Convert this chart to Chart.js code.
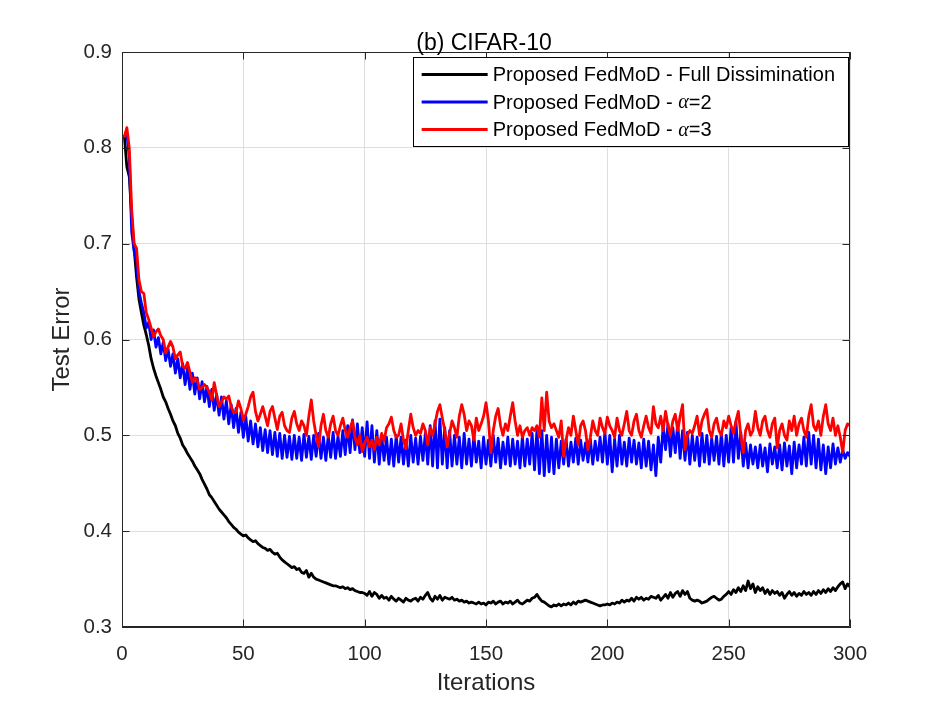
<!DOCTYPE html>
<html>
<head>
<meta charset="utf-8">
<script src="https://cdn.jsdelivr.net/npm/chart.js@4.4.1/dist/chart.umd.min.js"></script>
<style>
html,body{margin:0;padding:0;background:#fff;}
#wrap{width:938px;height:704px;position:relative;}
</style>
</head>
<body>
<div id="wrap"><canvas id="c" width="938" height="704"></canvas></div>
<script>
const chartTitle = '(b) CIFAR-10';
const xTitle = 'Iterations';
const yTitle = 'Test Error';
const seriesLabels = ['Proposed FedMoD - Full Dissimination', 'Proposed FedMoD - α=2', 'Proposed FedMoD - α=3'];
const seriesColors = ['#000000', '#0000ff', '#ff0000'];

const fullDissemination = [
.812,.780,.770,.728,.695,.665,.642,.628,.615,.605,
.594,.580,.570,.562,.555,.548,.540,.535,.528,.522,
.515,.510,.502,.497,.490,.486,.481,.477,.473,.468,
.464,.460,.454,.449,.444,.438,.435,.431,.427,.423,
.420,.417,.414,.410,.407,.404,.402,.399,.397,.395,
.396,.393,.391,.389,.390,.387,.385,.383,.382,.380,
.381,.378,.376,.377,.373,.370,.368,.366,.364,.362,
.363,.360,.361,.357,.356,.359,.352,.356,.352,.350,
.349,.348,.347,.346,.345,.344,.343,.343,.342,.341,
.342,.340,.341,.339,.340,.338,.337,.336,.336,.335,
.333,.337,.332,.336,.334,.330,.333,.330,.331,.328,
.332,.329,.327,.330,.328,.326,.330,.328,.327,.329,
.330,.327,.331,.329,.333,.336,.330,.327,.332,.329,
.333,.328,.331,.330,.329,.331,.328,.329,.327,.328,
.326,.327,.325,.326,.325,.324,.326,.324,.325,.323,
.326,.325,.327,.324,.326,.327,.324,.326,.325,.327,
.324,.326,.328,.325,.324,.326,.328,.327,.330,.331,
.334,.330,.327,.326,.324,.322,.321,.323,.322,.324,
.322,.324,.323,.325,.323,.326,.324,.327,.326,.327,
.328,.327,.326,.325,.324,.323,.322,.323,.323,.324,
.323,.325,.324,.326,.325,.328,.326,.328,.327,.330,
.327,.331,.329,.331,.328,.330,.329,.332,.331,.330,
.333,.328,.331,.334,.330,.336,.331,.335,.337,.332,
.338,.334,.337,.330,.328,.327,.328,.327,.325,.326,
.327,.329,.331,.332,.330,.328,.329,.332,.334,.337,
.334,.339,.336,.341,.337,.343,.338,.348,.340,.345,
.336,.342,.338,.341,.335,.339,.334,.338,.335,.337,
.333,.336,.330,.334,.337,.333,.336,.332,.335,.333,
.337,.334,.336,.333,.337,.334,.338,.335,.339,.336,
.340,.337,.341,.338,.342,.345,.347,.340,.345,.342
];

const alpha2 = [
.812,.815,.790,.712,.692,.680,.650,.638,.628,.612,
.618,.600,.610,.592,.602,.585,.597,.578,.590,.572,
.585,.565,.580,.560,.575,.553,.570,.548,.565,.543,
.560,.538,.556,.535,.551,.530,.548,.526,.543,.521,
.540,.517,.536,.512,.532,.508,.528,.503,.524,.498,
.520,.494,.515,.491,.512,.488,.508,.484,.506,.482,
.505,.480,.503,.478,.502,.476,.500,.477,.499,.475,
.500,.476,.498,.474,.501,.477,.499,.475,.500,.478,
.502,.476,.498,.474,.500,.477,.503,.476,.499,.478,
.505,.480,.510,.482,.516,.485,.512,.482,.508,.478,
.514,.476,.510,.472,.505,.470,.500,.474,.498,.470,
.496,.468,.500,.472,.498,.470,.495,.468,.500,.472,
.497,.470,.499,.474,.502,.470,.510,.468,.515,.466,
.517,.470,.508,.466,.505,.468,.500,.470,.498,.466,
.502,.470,.496,.468,.500,.472,.494,.466,.498,.470,
.495,.468,.500,.472,.497,.466,.493,.470,.498,.468,
.496,.470,.494,.466,.499,.468,.496,.470,.502,.464,
.506,.460,.505,.458,.500,.462,.498,.460,.496,.466,
.494,.470,.496,.468,.493,.472,.497,.470,.495,.474,
.492,.472,.496,.470,.494,.474,.498,.472,.503,.470,
.500,.462,.496,.468,.500,.470,.493,.468,.497,.472,
.495,.470,.492,.466,.496,.468,.494,.464,.490,.458,
.498,.472,.510,.485,.512,.478,.508,.482,.513,.476,
.505,.474,.503,.470,.500,.474,.498,.468,.502,.472,
.500,.470,.497,.474,.499,.470,.503,.468,.500,.472,
.508,.472,.514,.476,.503,.468,.492,.466,.490,.470,
.488,.466,.490,.468,.487,.462,.491,.470,.488,.466,
.490,.464,.492,.468,.489,.460,.493,.466,.490,.470,
.498,.468,.503,.470,.500,.466,.496,.464,.490,.460,
.488,.466,.491,.470,.487,.472,.485,.476,.482,.478
];

const alpha3 = [
.812,.821,.800,.735,.700,.695,.662,.650,.648,.628,
.621,.612,.603,.608,.611,.604,.600,.586,.592,.598,
.592,.580,.584,.587,.572,.570,.576,.566,.555,.560,
.558,.548,.550,.553,.550,.545,.537,.555,.542,.530,
.535,.540,.538,.541,.530,.524,.524,.536,.528,.516,
.522,.530,.540,.545,.525,.515,.522,.530,.520,.510,
.525,.530,.518,.506,.520,.524,.510,.505,.503,.518,
.525,.512,.505,.515,.510,.500,.520,.537,.515,.500,
.488,.510,.522,.505,.498,.512,.520,.505,.500,.510,
.518,.505,.498,.508,.515,.498,.490,.500,.483,.492,
.498,.488,.495,.485,.498,.490,.502,.494,.508,.512,
.519,.505,.498,.500,.512,.495,.486,.505,.522,.508,
.500,.505,.502,.512,.505,.490,.508,.500,.512,.525,
.532,.518,.505,.488,.502,.515,.508,.498,.520,.532,
.522,.505,.515,.510,.495,.518,.505,.512,.520,.534,
.515,.482,.505,.520,.528,.510,.500,.512,.505,.520,
.534,.515,.500,.510,.498,.505,.508,.500,.508,.505,
.510,.498,.539,.505,.545,.515,.508,.512,.505,.498,
.515,.478,.495,.508,.500,.520,.505,.490,.510,.515,
.505,.485,.498,.515,.505,.500,.518,.508,.502,.519,
.510,.505,.498,.518,.505,.500,.512,.525,.505,.500,
.515,.522,.505,.498,.510,.520,.508,.502,.530,.512,
.508,.520,.505,.525,.510,.500,.515,.522,.505,.520,
.532,.485,.500,.505,.502,.510,.520,.500,.515,.522,
.527,.505,.498,.512,.518,.505,.500,.515,.508,.520,
.510,.502,.515,.525,.500,.482,.505,.512,.500,.505,
.525,.508,.500,.515,.520,.505,.498,.512,.518,.487,
.505,.512,.500,.495,.515,.505,.520,.500,.512,.518,
.505,.498,.520,.532,.510,.505,.515,.500,.520,.532,
.512,.505,.518,.500,.510,.498,.482,.505,.512,.510
];

const xTicks = [0, 50, 100, 150, 200, 250, 300];
const yTicks = [0.3, 0.4, 0.5, 0.6, 0.7, 0.8, 0.9];
const iterations = alpha2.map((_, i) => i + 1);

const AXIS = '#262626';
const GRID = '#dedede';
const FONT = '"Liberation Sans", Arial, Helvetica, sans-serif';

function toPoints(arr) { return arr.map((v, i) => ({x: iterations[i], y: v})); }

const boxPlugin = {
  id: 'matlabBox',
  afterDatasetsDraw(chart) {
    const {ctx, chartArea: ca, scales} = chart;
    ctx.save();
    ctx.strokeStyle = AXIS;
    ctx.lineWidth = 1;
    ctx.beginPath();
    ctx.rect(ca.left + 0.5, ca.top + 0.5, ca.right - ca.left - 1, ca.bottom - ca.top - 1);
    ctx.stroke();
    const tl = 7.5;
    ctx.beginPath();
    xTicks.forEach(v => {
      const px = Math.round(scales.x.getPixelForValue(v)) + 0.5;
      ctx.moveTo(px, ca.bottom); ctx.lineTo(px, ca.bottom - tl);
      ctx.moveTo(px, ca.top); ctx.lineTo(px, ca.top + tl);
    });
    yTicks.forEach(v => {
      const py = Math.round(scales.y.getPixelForValue(v)) + 0.5;
      ctx.moveTo(ca.left, py); ctx.lineTo(ca.left + tl, py);
      ctx.moveTo(ca.right, py); ctx.lineTo(ca.right - tl, py);
    });
    ctx.stroke();

    // title
    ctx.fillStyle = '#000';
    ctx.font = '23px ' + FONT;
    ctx.textAlign = 'center';
    ctx.textBaseline = 'alphabetic';
    ctx.fillText(chartTitle, (ca.left + ca.right) / 2 - 2, ca.top - 2);

    // legend
    const fs = 20;
    const normal = fs + 'px ' + FONT;
    const ital = 'italic ' + fs + 'px "Liberation Serif", "DejaVu Serif", serif';
    function parts(label) {
      const idx = label.indexOf('α');
      if (idx < 0) return [[label, normal]];
      return [[label.slice(0, idx), normal], ['α', ital], [label.slice(idx + 1), normal]];
    }
    function widthOf(label) {
      let w = 0;
      parts(label).forEach(p => { ctx.font = p[1]; w += ctx.measureText(p[0]).width; });
      return w;
    }
    const labels = chart.data.datasets.map(d => d.label);
    const maxW = Math.max(...labels.map(widthOf));
    const sampleL = 9, sampleW = 66, gap = 5, padR = 13;
    const boxW = sampleL + sampleW + gap + maxW + padR;
    const boxH = 89;
    const right = ca.right - 2, top = ca.top + 5;
    const left = right - boxW;
    ctx.fillStyle = '#fff';
    ctx.fillRect(left, top, boxW, boxH);
    ctx.strokeStyle = '#000';
    ctx.lineWidth = 1;
    ctx.strokeRect(Math.round(left) + 0.5, Math.round(top) + 0.5, Math.round(boxW), boxH);
    const rowH = 27.5;
    chart.data.datasets.forEach((d, i) => {
      const cy = top + 17.5 + i * rowH;
      ctx.strokeStyle = d.borderColor;
      ctx.lineWidth = 3;
      ctx.beginPath();
      ctx.moveTo(left + sampleL, cy); ctx.lineTo(left + sampleL + sampleW, cy);
      ctx.stroke();
      let x = left + sampleL + sampleW + gap;
      ctx.fillStyle = '#000';
      ctx.textAlign = 'left';
      ctx.textBaseline = 'middle';
      parts(d.label).forEach(p => {
        ctx.font = p[1];
        ctx.fillText(p[0], x, cy + 1);
        x += ctx.measureText(p[0]).width;
      });
    });
    ctx.restore();
  }
};

new Chart(document.getElementById('c'), {
  type: 'line',
  data: {
    datasets: [
      {label: seriesLabels[0], data: toPoints(fullDissemination), borderColor: seriesColors[0], order: 2},
      {label: seriesLabels[1], data: toPoints(alpha2), borderColor: seriesColors[1], order: 1},
      {label: seriesLabels[2], data: toPoints(alpha3), borderColor: seriesColors[2], order: 0}
    ].map(d => Object.assign(d, {borderWidth: 2.8, pointRadius: 0, tension: 0, fill: false, borderJoinStyle: 'round', borderCapStyle: 'round'}))
  },
  options: {
    responsive: false,
    animation: false,
    devicePixelRatio: 1,
    layout: {padding: {left: 0, right: 88, top: 52, bottom: 0}},
    plugins: {legend: {display: false}, tooltip: {enabled: false}, title: {display: false}},
    scales: {
      x: {
        type: 'linear', min: 0, max: 300,
        afterBuildTicks: s => { s.ticks = xTicks.map(v => ({value: v})); },
        afterFit: s => { s.height = 77; },
        grid: {color: GRID, lineWidth: 1, drawTicks: false},
        border: {display: true, color: AXIS, width: 1},
        ticks: {color: AXIS, font: {family: FONT, size: 20.5}, padding: 15, maxRotation: 0},
        title: {display: true, text: xTitle, color: AXIS, font: {family: FONT, size: 24}, padding: {top: 0, bottom: 6}}
      },
      y: {
        type: 'linear', min: 0.3, max: 0.9,
        afterBuildTicks: s => { s.ticks = yTicks.map(v => ({value: v})); },
        afterFit: s => { s.width = 122; },
        grid: {color: GRID, lineWidth: 1, drawTicks: false},
        border: {display: true, color: AXIS, width: 1},
        ticks: {color: AXIS, font: {family: FONT, size: 20.5}, padding: 10, callback: v => Number(v).toFixed(1)},
        title: {display: true, text: yTitle, color: AXIS, font: {family: FONT, size: 24}, padding: {top: 48, bottom: 0}}
      }
    }
  },
  plugins: [boxPlugin]
});
</script>
</body>
</html>
